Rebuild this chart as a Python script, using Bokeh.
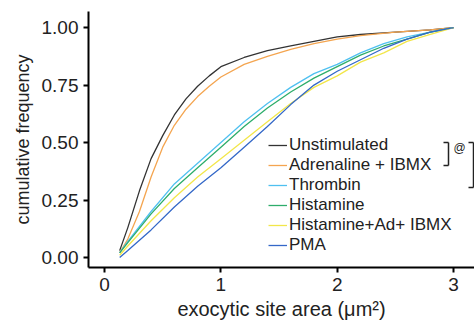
from bokeh.plotting import figure
from bokeh.models import (Range1d, FixedTicker, NumeralTickFormatter, Legend, LegendItem,
                          Label, Arrow)
from bokeh.embed import file_html
from bokeh.resources import INLINE

# ---- data ----
x_unstim = [0.13, 0.2, 0.3, 0.4, 0.5, 0.6, 0.7, 0.8, 0.9, 1.0, 1.2, 1.4, 1.6, 1.8, 2.0, 2.2, 2.5, 2.8, 3.0]
y_unstim = [0.03, 0.13, 0.29, 0.43, 0.53, 0.62, 0.69, 0.745, 0.79, 0.83, 0.87, 0.90, 0.92, 0.94, 0.96, 0.97, 0.98, 0.99, 1.0]

x_adr = [0.13, 0.2, 0.3, 0.4, 0.5, 0.6, 0.7, 0.8, 0.9, 1.0, 1.2, 1.4, 1.6, 1.8, 2.0, 2.2, 2.5, 2.8, 3.0]
y_adr = [0.02, 0.08, 0.20, 0.35, 0.48, 0.575, 0.645, 0.70, 0.745, 0.785, 0.84, 0.875, 0.905, 0.93, 0.95, 0.965, 0.98, 0.99, 1.0]

x_thr = [0.13, 0.2, 0.4, 0.6, 0.8, 1.0, 1.2, 1.4, 1.6, 1.8, 2.0, 2.2, 2.4, 2.6, 2.8, 3.0]
y_thr = [0.02, 0.07, 0.20, 0.32, 0.41, 0.50, 0.59, 0.67, 0.74, 0.80, 0.84, 0.89, 0.93, 0.96, 0.98, 1.0]

x_his = [0.13, 0.2, 0.4, 0.6, 0.8, 1.0, 1.2, 1.4, 1.6, 1.8, 2.0, 2.2, 2.4, 2.6, 2.8, 3.0]
y_his = [0.02, 0.065, 0.19, 0.30, 0.39, 0.48, 0.57, 0.65, 0.72, 0.78, 0.83, 0.88, 0.92, 0.95, 0.98, 1.0]

x_hisad = [0.13, 0.2, 0.4, 0.6, 0.8, 1.0, 1.2, 1.4, 1.6, 1.8, 2.0, 2.2, 2.4, 2.6, 2.8, 3.0]
y_hisad = [0.01, 0.05, 0.16, 0.26, 0.35, 0.43, 0.51, 0.59, 0.67, 0.74, 0.79, 0.85, 0.89, 0.94, 0.97, 1.0]

x_pma = [0.13, 0.2, 0.4, 0.6, 0.8, 1.0, 1.2, 1.4, 1.6, 1.8, 2.0, 2.2, 2.4, 2.6, 2.8, 3.0]
y_pma = [0.0, 0.03, 0.12, 0.22, 0.31, 0.39, 0.48, 0.57, 0.665, 0.75, 0.81, 0.86, 0.91, 0.95, 0.98, 1.0]

names = ["Unstimulated", "Adrenaline + IBMX", "Thrombin", "Histamine", "Histamine+Ad+ IBMX", "PMA"]
colors = ["#333333", "#F4A550", "#4FC0F0", "#2EAD6B", "#F2E64A", "#3468C8"]
series = [(x_unstim, y_unstim), (x_adr, y_adr), (x_thr, y_thr), (x_his, y_his),
          (x_hisad, y_hisad), (x_pma, y_pma)]

x_ticks = [0, 1, 2, 3]
y_ticks = [0.0, 0.25, 0.5, 0.75, 1.0]

FONT = "Liberation Sans"

p = figure(width=474, height=323, output_backend="svg", toolbar_location=None,
           x_range=Range1d(-0.138, 3.18), y_range=Range1d(-0.0435, 1.07),
           min_border_left=88, min_border_right=0, min_border_top=11, min_border_bottom=56)
p.outline_line_color = None
p.xgrid.visible = False
p.ygrid.visible = False
p.background_fill_color = "white"
p.border_fill_color = "white"

renderers = []
for (xs, ys), c in zip(series, colors):
    r = p.line(xs, ys, line_color=c, line_width=1.3)
    renderers.append(r)

for ax in (p.xaxis[0], p.yaxis[0]):
    ax.axis_line_color = "black"
    ax.axis_line_width = 2
    ax.major_tick_line_color = "black"
    ax.major_tick_line_width = 2
    ax.major_tick_out = 5
    ax.major_tick_in = 0
    ax.minor_tick_line_color = None
    ax.major_label_text_font = FONT
    ax.major_label_text_font_size = "19px"
    ax.major_label_text_color = "#222222"
    ax.major_label_standoff = 5
    ax.axis_label_text_font = FONT
    ax.axis_label_text_font_style = "normal"
    ax.axis_label_text_color = "#222222"

p.xaxis.ticker = FixedTicker(ticks=x_ticks)
p.yaxis.ticker = FixedTicker(ticks=y_ticks)
p.yaxis.formatter = NumeralTickFormatter(format="0.00")
p.xaxis.axis_label = "exocytic site area (\u03bcm\u00b2)"
p.yaxis.axis_label = "cumulative frequency"
p.xaxis.axis_label_text_font_size = "20px"
p.yaxis.axis_label_text_font_size = "18px"
p.xaxis.axis_label_standoff = 4
p.yaxis.axis_label_standoff = 6

legend = Legend(items=[LegendItem(label=n, renderers=[r]) for n, r in zip(names, renderers)],
                location=(180, 12), padding=0, margin=0, spacing=0,
                glyph_width=19, glyph_height=20, label_height=20, label_standoff=2,
                label_text_font=FONT, label_text_font_size="17px", label_text_color="#222222",
                border_line_color=None, background_fill_alpha=0)
p.add_layout(legend, "center")

# brackets (screen units relative to the plot frame)
def seg(x0, y0, x1, y1):
    p.add_layout(Arrow(end=None, x_start=x0, y_start=y0, x_end=x1, y_end=y1,
                       start_units="screen", end_units="screen",
                       line_color="#222222", line_width=1.5))

seg(360, 125, 360, 102)
seg(355, 125, 360, 125)
seg(355, 102, 360, 102)
p.add_layout(Label(x=365, y=113, x_units="screen", y_units="screen", text="@",
                   text_font=FONT, text_font_size="12px", text_color="#222222"))
seg(385, 125, 385, 80)
seg(380, 125, 385, 125)
seg(380, 80, 385, 80)

open("out.html", "w").write(file_html(p, INLINE))
